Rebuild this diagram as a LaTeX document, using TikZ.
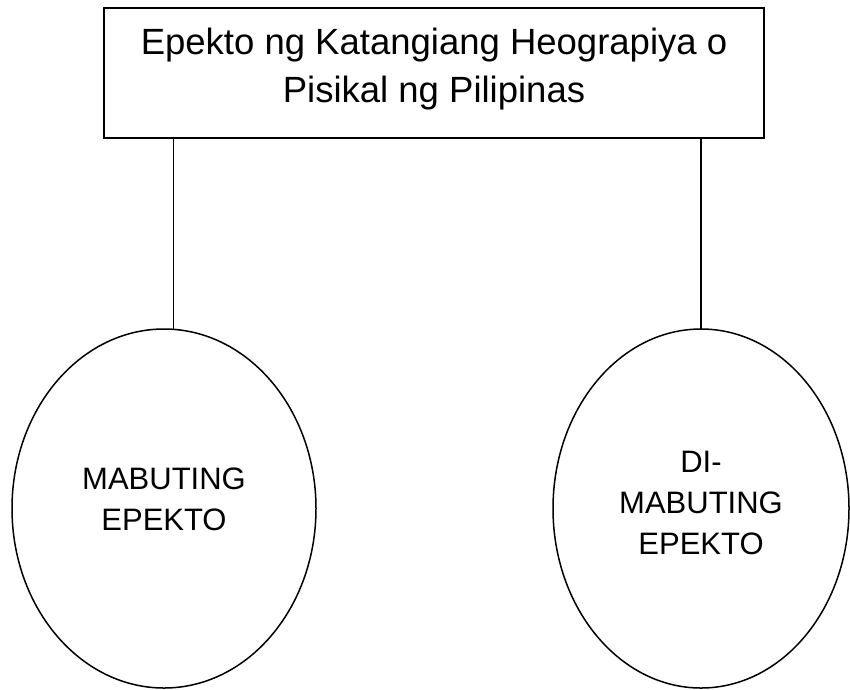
\documentclass[tikz,border=0pt]{standalone}
\usepackage{fontspec}
\setmainfont{Liberation Sans}
\usetikzlibrary{shapes.geometric}
\begin{document}
\begin{tikzpicture}[x=1pt,y=-1pt,
  line width=1.5pt,
  titlebox/.style={draw, rectangle, inner sep=0pt, outer sep=0pt,
    minimum width=660pt, minimum height=130pt, align=center,
    font=\fontsize{36.5}{48}\selectfont},
  effectoval/.style={draw, ellipse, inner sep=0pt, outer sep=0pt, align=center,
    font=\fontsize{31}{41}\selectfont},
  link/.style={line width=1.5pt}]
\useasboundingbox (0,0) rectangle (850,689);
\node[titlebox, text depth=16pt] (title) at (434,73)
  {Epekto ng Katangiang Heograpiya o\\Pisikal ng Pilipinas};
\node[effectoval, minimum width=304pt, minimum height=359pt, text depth=18pt]
  (good) at (164,508.5) {MABUTING\\EPEKTO};
\node[effectoval, minimum width=296pt, minimum height=359pt, text depth=12pt]
  (bad) at (701,508.5) {DI-\\MABUTING\\EPEKTO};
\draw[link] (good.87.5) -- (good.87.5 |- title.south);
\draw[link] (bad.north) -- (bad.north |- title.south);
\end{tikzpicture}
\end{document}
